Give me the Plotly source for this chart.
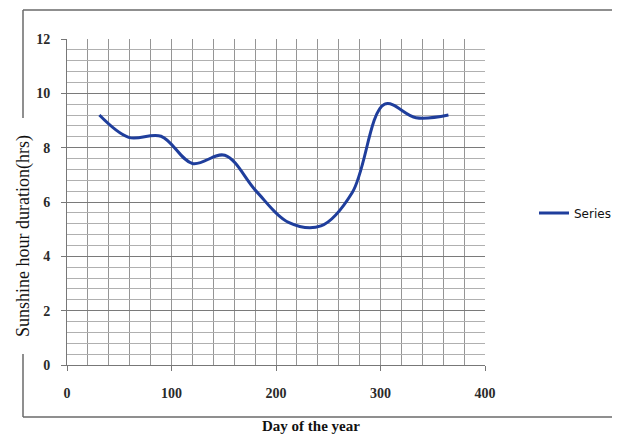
import plotly.graph_objects as go

# Day of year vs. sunshine duration (hours)
days = [31, 59, 90, 120, 151, 181, 212, 243, 273, 304, 334, 365]
hours = [9.2, 8.38, 8.42, 7.42, 7.72, 6.4, 5.25, 5.12, 6.35, 9.6, 9.1, 9.2]

x_ticks = [0, 100, 200, 300, 400]
y_ticks = [0, 2, 4, 6, 8, 10, 12]

LINE_BLUE = "#1f3e9c"
tick_font = dict(family="Liberation Serif", size=14, color="#2a2a2a", weight="bold")

W, H = 621, 435

fig = go.Figure()
fig.add_trace(go.Scatter(
    x=days, y=hours, mode="lines", name="Series",
    line=dict(color=LINE_BLUE, width=3, shape="spline", smoothing=1.0),
))

fig.update_layout(
    width=W, height=H,
    margin=dict(l=67, r=136, t=39, b=70),
    paper_bgcolor="white", plot_bgcolor="white",
    showlegend=True,
    legend=dict(xref="container", yref="container",
                x=534 / W, y=1 - 213 / H, xanchor="left", yanchor="middle",
                font=dict(family="DejaVu Sans", size=12, color="#111111"),
                bgcolor="rgba(0,0,0,0)", borderwidth=0),
    xaxis=dict(
        range=[0, 400], tickvals=x_ticks, ticktext=[str(v) for v in x_ticks],
        showgrid=True, gridcolor="#959595", gridwidth=1,
        minor=dict(dtick=20, showgrid=True, gridcolor="#959595", gridwidth=1),
        showline=True, linecolor="#777777", linewidth=1,
        ticks="outside", ticklen=5, tickcolor="#777777",
        tickfont=tick_font, ticklabelstandoff=10, zeroline=False,
    ),
    yaxis=dict(
        range=[0, 12], tickvals=y_ticks, ticktext=[str(v) for v in y_ticks],
        showgrid=True, gridcolor="#7a7a7a", gridwidth=1,
        minor=dict(dtick=0.4, showgrid=True, gridcolor="#b0b0b0", gridwidth=1),
        showline=True, linecolor="#777777", linewidth=1,
        ticks="outside", ticklen=5, tickcolor="#777777",
        tickfont=tick_font, ticklabelstandoff=8, zeroline=False,
    ),
)

# Axis titles
fig.add_annotation(text="<b>Day of the year</b>", xref="paper", yref="paper",
                   x=(311 - 67) / 418, y=(365 - 426) / 326,
                   xanchor="center", yanchor="middle", showarrow=False,
                   font=dict(family="Liberation Serif", size=15, color="#111111"))
fig.add_annotation(text="Sunshine hour duration(hrs)", xref="paper", yref="paper",
                   x=(23 - 67) / 418, y=(365 - 236) / 326, textangle=-90,
                   xanchor="center", yanchor="middle", showarrow=False,
                   font=dict(family="Liberation Serif", size=18, color="#111111"),
                   bgcolor="white")

# Chart frame around the whole figure
def px_x(p):
    return (p - 67) / 418

def px_y(p):
    return (365 - p) / 326

frame = dict(color="#6a6a6a", width=1.5)
fig.add_shape(type="line", xref="paper", yref="paper",
              x0=px_x(23), x1=px_x(612), y0=px_y(10), y1=px_y(10), line=frame)
fig.add_shape(type="line", xref="paper", yref="paper",
              x0=px_x(23), x1=px_x(612), y0=px_y(417), y1=px_y(417), line=frame)
fig.add_shape(type="line", xref="paper", yref="paper",
              x0=px_x(23), x1=px_x(23), y0=px_y(10), y1=px_y(118), line=frame)
fig.add_shape(type="line", xref="paper", yref="paper",
              x0=px_x(23), x1=px_x(23), y0=px_y(354), y1=px_y(417), line=frame)

fig.write_html("out.html")
